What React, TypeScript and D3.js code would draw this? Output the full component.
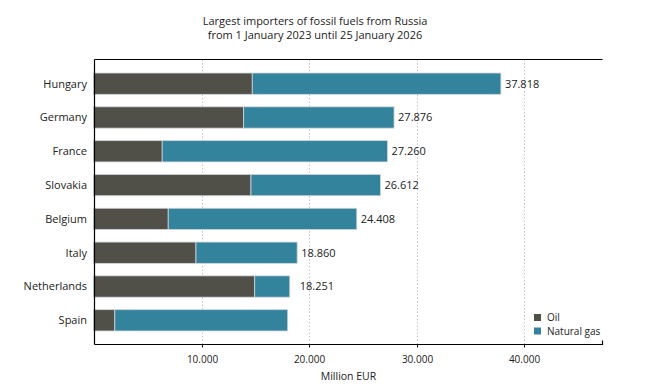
import React from "react";
import * as d3 from "d3";

const countries = ["Hungary", "Germany", "France", "Slovakia", "Belgium", "Italy", "Netherlands", "Spain"];
const oilValues = [14680, 13880, 6300, 14560, 6860, 9440, 14910, 1890];
const gasValues = [23138, 13996, 20960, 12052, 17548, 9420, 3260, 16090];
const totalLabels = ["37.818", "27.876", "27.260", "26.612", "24.408", "18.860", "18.251", ""];
const xTicks = [10000, 20000, 30000, 40000];
const seriesNames = ["Oil", "Natural gas"];
const titleLines = ["Largest importers of fossil fuels from Russia", "from 1 January 2023 until 25 January 2026"];
const xAxisTitle = "Million EUR";

const W = 656, H = 388;
const left = 94.5, right = 602.5, top = 59.5, bottom = 344.5;
const colors = ["#504f48", "#34839d"];
const font = "'Open Sans', sans-serif";
const labelNudge: Record<string, number> = { Netherlands: 6 };

export default function App() {
  const x = d3.scaleLinear().domain([0, 37818 * 1.25]).range([left, right]);
  const y = d3.scaleBand<string>().domain(countries).range([top, bottom]).paddingInner(0.37).paddingOuter(0.4);
  const fmt = (v: number) => d3.format(",")(v).replace(/,/g, ".");
  const bw = y.bandwidth();

  return (
    <svg width={W} height={H} style={{ position: "absolute", left: 0, top: 0, background: "#fff" }} fontFamily={font}>
      {titleLines.map((t, i) => (
        <text key={i} x={315} y={25 + i * 14} textAnchor="middle" fontSize={11} fill="#222">{t}</text>
      ))}
      {xTicks.map((t) => (
        <line key={t} x1={Math.round(x(t)) + 0.5} x2={Math.round(x(t)) + 0.5} y1={top} y2={bottom} stroke="#c4c4c4" strokeDasharray="1.5,2" />
      ))}
      {countries.map((c, i) => {
        const y0 = y(c)!;
        const o = oilValues[i], g = gasValues[i];
        const labelX = x(o + g) + 4 + (labelNudge[c] || 0);
        return (
          <g key={c}>
            <rect x={x(0) - 1} y={y0} width={x(o) - x(0) + 1} height={bw} fill={colors[0]} stroke="#cfd6db" strokeWidth={0.8} />
            <rect x={x(o)} y={y0} width={x(o + g) - x(o)} height={bw} fill={colors[1]} stroke="#cfd6db" strokeWidth={0.8} />
            {totalLabels[i] && (
              <text x={labelX} y={y0 + bw / 2} dy="0.35em" fontSize={11} fill="#222">{totalLabels[i]}</text>
            )}
            <text x={87} y={y0 + bw / 2} dy="0.35em" textAnchor="end" fontSize={11} fill="#222">{c}</text>
          </g>
        );
      })}
      <line x1={left} x2={right} y1={top} y2={top} stroke="#000" strokeWidth={1.2} />
      <line x1={left} x2={left} y1={top} y2={bottom} stroke="#000" strokeWidth={1.2} />
      <path d={`M${left},${bottom}H${right}V${bottom - 4}`} fill="none" stroke="#000" strokeWidth={1.2} />
      {xTicks.map((t) => (
        <g key={t} transform={`translate(${Math.round(x(t)) + 0.5},${bottom})`}>
          <line y1={0} y2={3} stroke="#000" />
          <text y={18} textAnchor="middle" fontSize={10} fill="#222">{fmt(t)}</text>
        </g>
      ))}
      <text x={(left + right) / 2} y={380} textAnchor="middle" fontSize={10.5} fill="#222">{xAxisTitle}</text>
      {seriesNames.map((s, i) => (
        <g key={s} transform={`translate(534,${314 + i * 13.5})`}>
          <rect width={7} height={7} fill={colors[i]} />
          <text x={13} y={3.5} dy="0.35em" fontSize={10} fill="#222">{s}</text>
        </g>
      ))}
    </svg>
  );
}
